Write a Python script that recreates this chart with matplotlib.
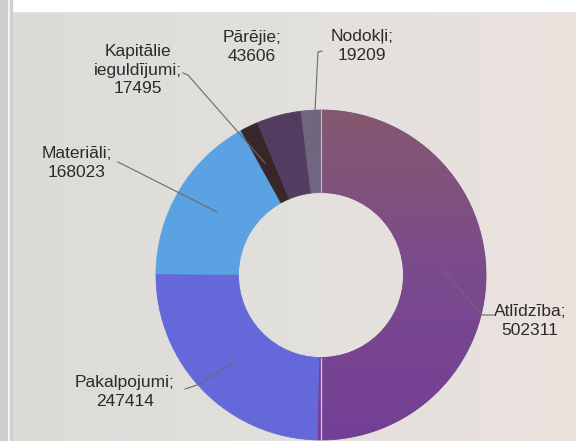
import numpy as np
import matplotlib.pyplot as plt
from matplotlib.patches import Rectangle
from matplotlib.colors import LinearSegmentedColormap

plt.rcParams['font.family'] = ['Liberation Sans', 'DejaVu Sans']

# data
labels = ['Atlīdzība', 'Pakalpojumi', 'Materiāli', 'Kapitālie\nieguldījumi', 'Pārējie', 'Nodokļi']
values = [502311, 247414, 168023, 17495, 43606, 19209]
colors = ['#774a88', '#6468d8', '#5ba2e2', '#382628', '#523c60', '#716680']

# label text centres and leader lines (pixel coords, y from top)
label_pos = [(530, 321), (125, 392), (77, 163), (138, 70), (252, 47), (362, 46)]
leaders = [
    [(493, 315), (482, 315), (445, 272)],
    [(185, 389), (197, 385), (235, 362)],
    [(118, 162), (217, 212)],
    [(183, 73), (188, 75), (265, 163)],
    None,
    [(322, 51), (318, 52), (313, 150)],
]

W, H = 576, 441
fig = plt.figure(figsize=(5.76, 4.41), dpi=100)
ax = fig.add_axes([0, 0, 1, 1])

cx, cy, r = 321, 275, 165
wedges, _ = ax.pie(values, colors=colors, startangle=90, counterclock=False,
                   center=(cx, H - cy), radius=r,
                   wedgeprops=dict(width=r * 0.5, linewidth=0.6))
for w, c in zip(wedges, colors):
    w.set_edgecolor(c)

# Atlīdzība: mauve at the top fading to purple at the bottom
grad = LinearSegmentedColormap.from_list('atl', ['#733f96', '#7a4a8e', '#86586e'])
big = wedges[0]
img = ax.imshow(np.linspace(0, 1, 100).reshape(-1, 1), cmap=grad, aspect='auto',
                extent=(cx - 3, cx + r, H - cy - r, H - cy + r), origin='lower', zorder=1.5)
img.set_clip_path(big)
ax.plot([cx, cx], [H - cy - r, H - cy - r / 2], color='#c8c0d8', lw=1, zorder=2)
ax.plot([cx, cx], [H - cy + r / 2, H - cy + r], color='#c4bcd0', lw=0.8, zorder=2)

ax.set_xlim(0, W)
ax.set_ylim(0, H)
ax.set_aspect('equal')
ax.axis('off')

# background (photo of a screen)
bg = LinearSegmentedColormap.from_list('bg', ['#dcdbd8', '#e2e0dd', '#ebe2de'])
ax.imshow(np.linspace(0, 1, 100).reshape(1, -1), cmap=bg, aspect='auto',
          extent=(0, W, 0, H), zorder=-10)
ax.add_patch(Rectangle((0, H - 11), W, 11, color='#ffffff', zorder=-9))
ax.add_patch(Rectangle((0, 0), 12, H, color='#cfcfcf', zorder=-9))
ax.plot([9, 9], [0, H], color='#f2f2f2', lw=1.5, zorder=-8)
ax.set_xlim(0, W)
ax.set_ylim(0, H)

for lab, val, (tx, ty), ld in zip(labels, values, label_pos, leaders):
    ax.text(tx, H - ty, f'{lab};\n{val}', ha='center', va='center',
            fontsize=12.5, color='#2b2b2b', linespacing=1.3)
    if ld:
        ax.plot([p[0] for p in ld], [H - p[1] for p in ld],
                color='#6a6a70', lw=0.8, zorder=3)

fig.savefig('out.png', dpi=100)
